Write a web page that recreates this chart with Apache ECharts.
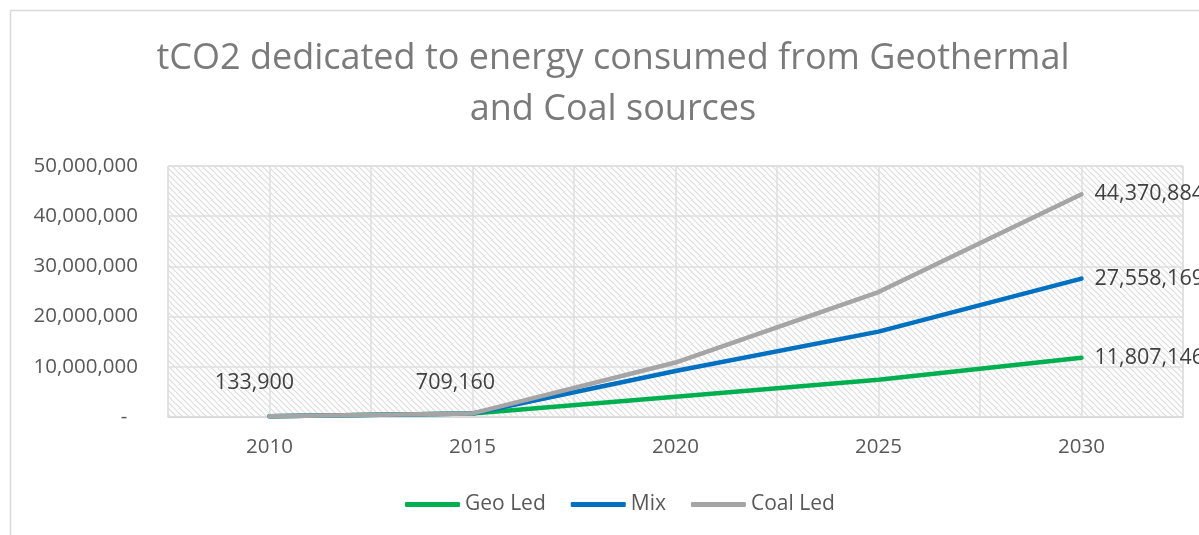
<!DOCTYPE html>
<html>
<head>
<meta charset="utf-8">
<script src="https://cdn.jsdelivr.net/npm/echarts@6/dist/echarts.min.js"></script>
<style>
html,body{margin:0;padding:0;background:#fff;}
#c{width:1199px;height:535px;}
</style>
</head>
<body>
<div id="c"></div>
<script>
// ---- data ----
var years = [2010, 2015, 2020, 2025, 2030];
var geoLed = [133900, 709160, 4050000, 7430000, 11807146];
var mix = [133900, 709160, 9150000, 17000000, 27558169];
var coalLed = [133900, 709160, 10850000, 24900000, 44370884];
var seriesNames = ['Geo Led', 'Mix', 'Coal Led'];
var xTickYears = [2010, 2015, 2020, 2025, 2030];

// hatch pattern
var tile = document.createElement('canvas');
tile.width = 6; tile.height = 6;
var tc = tile.getContext('2d');
tc.fillStyle = '#ffffff';
tc.fillRect(0, 0, 6, 6);
tc.strokeStyle = '#dcdcdc';
tc.lineWidth = 1.1;
tc.beginPath();
tc.moveTo(-1, -1); tc.lineTo(7, 7);
tc.moveTo(-4, 2); tc.lineTo(4, 10);
tc.moveTo(2, -4); tc.lineTo(10, 4);
tc.stroke();

function fmt(v) {
  return Math.round(v).toString().replace(/\B(?=(\d{3})+(?!\d))/g, ',');
}

var FONT = '"Open Sans", sans-serif';

function buildData(vals, labelIdx) {
  return years.map(function (y, i) {
    var item = { value: [y, vals[i]] };
    if (labelIdx.indexOf(i) >= 0) {
      if (i === years.length - 1) {
        item.label = { show: true, position: 'right', distance: 13 };
      } else {
        item.label = { show: true, position: 'top', distance: 5, offset: [i === 0 ? -15 : -17, i === 0 ? -17 : -15] };
      }
    }
    return item;
  });
}

var chart = echarts.init(document.getElementById('c'), null, { renderer: 'canvas' });
var colors = ['#00b050', '#0070c0', '#a5a5a5'];
var all = [geoLed, mix, coalLed];
var labelSets = [[4], [4], [0, 1, 4]];

chart.setOption({
  animation: false,
  backgroundColor: '#ffffff',
  graphic: [{
    type: 'rect',
    left: 8, top: 8,
    shape: { width: 1300, height: 600 },
    style: { fill: 'none', stroke: '#d9d9d9', lineWidth: 1.5 },
    silent: true, z: -10
  }],
  title: {
    text: 'tCO2 dedicated to energy consumed from Geothermal\nand Coal sources',
    left: 608, top: 28, textAlign: 'center',
    textStyle: { fontFamily: FONT, fontWeight: 'normal', fontSize: 36, color: '#7a7a7a', lineHeight: 51 }
  },
  grid: {
    left: 168, right: 16, top: 166, bottom: 118,
    show: true,
    backgroundColor: { image: tile, repeat: 'repeat' },
    borderColor: '#d9d9d9', borderWidth: 1
  },
  legend: {
    data: seriesNames,
    left: 400, top: 489,
    itemWidth: 55, itemHeight: 5, itemGap: 25,
    icon: 'roundRect',
    textStyle: { fontFamily: FONT, fontSize: 21, color: '#595959' }
  },
  xAxis: {
    type: 'value',
    min: 2007.5, max: 2032.5, interval: 2.5,
    axisLine: { show: true, lineStyle: { color: '#d9d9d9', width: 1.5 } },
    axisTick: { show: false },
    splitLine: { show: true, lineStyle: { color: '#dedede', width: 1.5 } },
    axisLabel: {
      fontFamily: FONT, fontSize: 20.5, color: '#595959', margin: 20,
      showMinLabel: false, showMaxLabel: false,
      formatter: function (v) { return xTickYears.indexOf(v) >= 0 ? String(v) : ''; }
    }
  },
  yAxis: {
    type: 'value',
    min: 0, max: 50000000, interval: 10000000,
    axisLine: { show: false },
    axisTick: { show: false },
    splitLine: { show: true, lineStyle: { color: '#dedede', width: 1.5 } },
    axisLabel: {
      fontFamily: FONT, fontSize: 20.5, color: '#595959', margin: 30,
      formatter: function (v) { return v === 0 ? '-  ' : fmt(v); }
    }
  },
  series: all.map(function (vals, k) {
    return {
      name: seriesNames[k],
      type: 'line',
      data: buildData(vals, labelSets[k]),
      symbol: 'circle',
      symbolSize: 0.01,
      showSymbol: true,
      color: colors[k],
      itemStyle: { color: colors[k] },
      lineStyle: { width: 4.5, color: colors[k], cap: 'round', join: 'round' },
      label: { show: false, fontFamily: FONT, fontSize: 21.5, color: '#404040', formatter: function (p) { return fmt(p.value[1]); } },
      z: 3 + k
    };
  })
});
</script>
</body>
</html>
